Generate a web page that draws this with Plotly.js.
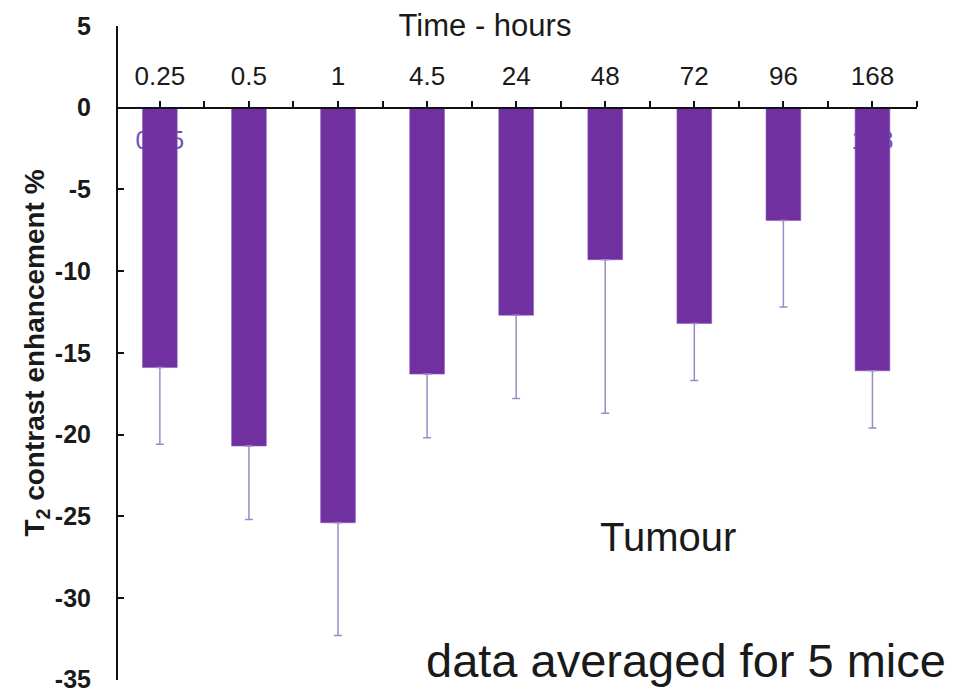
<!DOCTYPE html>
<html>
<head>
<meta charset="utf-8">
<script src="https://cdn.plot.ly/plotly-3.0.1.min.js"></script>
<style>html,body{margin:0;padding:0;background:#fff;}#chart{width:960px;height:693px;}</style>
</head>
<body>
<div id="chart"></div>
<script>
const categories = ["0.25", "0.5", "1", "4.5", "24", "48", "72", "96", "168"];
const enhancement = [-15.9, -20.7, -25.4, -16.3, -12.7, -9.3, -13.2, -6.9, -16.1];
const errorMinus = [4.7, 4.5, 6.9, 3.9, 5.1, 9.4, 3.5, 5.3, 3.5];
const yTicks = [5, 0, -5, -10, -15, -20, -25, -30, -35];

const xIdx = categories.map((c, i) => i);
const minorVals = categories.map((c, i) => i + 0.5);

const font = "Arial, 'Liberation Sans', sans-serif";

const trace = {
  type: "bar",
  x: xIdx,
  y: enhancement,
  width: 0.39,
  marker: {color: "#7030a0", line: {color: "#8a5cc0", width: 0.6}},
  error_y: {
    type: "data",
    symmetric: false,
    array: categories.map(() => 0),
    arrayminus: errorMinus,
    color: "#9d8bc6",
    thickness: 1.5,
    width: 4
  },
  hoverinfo: "x+y",
  showlegend: false
};

const ghost = {
  type: "scatter", mode: "markers", x: xIdx, y: enhancement.map(() => null),
  xaxis: "x2", yaxis: "y", showlegend: false, hoverinfo: "skip"
};

const layout = {
  width: 960,
  height: 693,
  paper_bgcolor: "#ffffff",
  plot_bgcolor: "#ffffff",
  margin: {l: 118, r: 43, t: 26, b: 13},
  font: {family: font, color: "#1a1a1a"},
  title: {
    text: "Time - hours",
    font: {family: font, size: 31, color: "#1a1a1a"},
    xref: "container", yref: "container",
    x: 485 / 960, xanchor: "center",
    y: 1 - 25 / 693, yanchor: "middle"
  },
  xaxis: {
    range: [-0.47, 8.5],
    anchor: "free",
    position: 35 / 40.02,
    side: "top",
    showline: true,
    linecolor: "#111",
    linewidth: 2,
    ticks: "outside",
    ticklen: 6,
    tickwidth: 2,
    tickcolor: "#111",
    tickmode: "array",
    tickvals: xIdx,
    ticktext: categories,
    minor: {tickmode: "array", tickvals: minorVals, ticks: "outside", ticklen: 6, tickwidth: 2, tickcolor: "#111", showgrid: false},
    tickfont: {family: font, size: 26, color: "#1a1a1a"},
    ticklabelstandoff: 6,
    showgrid: false,
    zeroline: false,
    fixedrange: true
  },
  xaxis2: {
    range: [-0.47, 8.5],
    overlaying: "x",
    anchor: "free",
    position: 0.852,
    side: "bottom",
    layer: "below traces",
    showline: false,
    ticks: "",
    tickmode: "array",
    tickvals: xIdx,
    ticktext: categories,
    tickfont: {family: font, size: 25, color: "#6f52b8"},
    showgrid: false,
    zeroline: false,
    fixedrange: true
  },
  yaxis: {
    range: [-35.02, 5],
    tickmode: "array",
    tickvals: yTicks,
    ticktext: yTicks.map(String),
    showline: true,
    linecolor: "#111",
    linewidth: 2,
    ticks: "inside",
    ticklen: 6,
    tickwidth: 2,
    tickcolor: "#111",
    tickfont: {family: font, size: 25, color: "#1a1a1a", weight: "bold"},
    ticklabelstandoff: 20,
    ticklabeloverflow: "allow",
    showgrid: false,
    zeroline: false,
    title: {
      text: "T<sub>2</sub> contrast enhancement %",
      font: {family: font, size: 28, color: "#1a1a1a", weight: "bold"},
      standoff: 2
    },
    fixedrange: true
  },
  annotations: [
    {text: "Tumour", xref: "paper", yref: "paper",
     x: (668 - 118) / 799, y: (680 - 537) / 654, xanchor: "center", yanchor: "middle",
     showarrow: false, font: {family: font, size: 40, color: "#1a1a1a"}},
    {text: "data averaged for 5 mice", xref: "paper", yref: "paper",
     x: (686 - 118) / 799, y: (680 - 660) / 654, xanchor: "center", yanchor: "middle",
     showarrow: false, font: {family: font, size: 47, color: "#1a1a1a"}}
  ]
};

Plotly.newPlot("chart", [trace, ghost], layout, {displayModeBar: false, staticPlot: true});
</script>
</body>
</html>
